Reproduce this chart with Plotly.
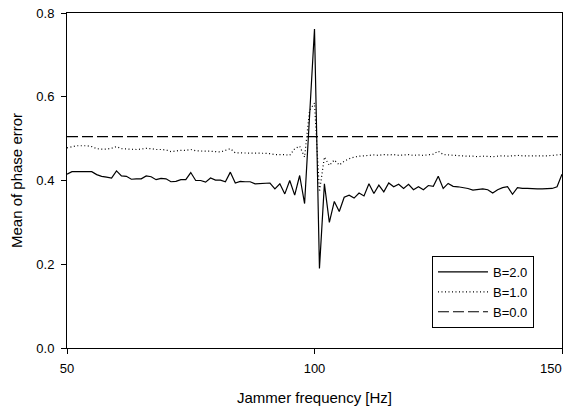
import plotly.graph_objects as go

freq = list(range(50, 151))

b2_vals = [
    0.415, 0.421, 0.421, 0.421, 0.422, 0.421, 0.414, 0.410, 0.408, 0.406,  # 50-59
    0.423, 0.411, 0.410, 0.403, 0.404, 0.404, 0.411, 0.409, 0.402, 0.405,  # 60-69
    0.404, 0.397, 0.398, 0.402, 0.402, 0.419, 0.400, 0.400, 0.396, 0.406,  # 70-79
    0.401, 0.401, 0.397, 0.420, 0.394, 0.398, 0.397, 0.397, 0.392, 0.393,  # 80-89
    0.393, 0.394, 0.380, 0.392, 0.368, 0.400, 0.365, 0.412, 0.345, 0.550,  # 90-99
    0.762, 0.190, 0.392, 0.300, 0.350, 0.326, 0.360, 0.365, 0.358, 0.370,  # 100-109
    0.363, 0.392, 0.369, 0.389, 0.373, 0.394, 0.385, 0.391, 0.381, 0.391,  # 110-119
    0.378, 0.385, 0.378, 0.388, 0.386, 0.410, 0.381, 0.393, 0.386, 0.385,  # 120-129
    0.383, 0.381, 0.377, 0.378, 0.380, 0.378, 0.370, 0.378, 0.383, 0.385,  # 130-139
    0.367, 0.383, 0.381, 0.381, 0.380, 0.380, 0.380, 0.381, 0.381, 0.385,  # 140-149
    0.415,                                                                  # 150
]

b1_vals = [
    0.478, 0.481, 0.483, 0.483, 0.483, 0.481, 0.476, 0.475, 0.475, 0.477,  # 50-59
    0.481, 0.476, 0.475, 0.474, 0.474, 0.475, 0.477, 0.476, 0.474, 0.474,  # 60-69
    0.473, 0.469, 0.471, 0.472, 0.472, 0.474, 0.471, 0.470, 0.470, 0.470,  # 70-79
    0.469, 0.468, 0.472, 0.476, 0.466, 0.466, 0.466, 0.466, 0.466, 0.465,  # 80-89
    0.465, 0.464, 0.462, 0.462, 0.462, 0.460, 0.476, 0.482, 0.456, 0.567,  # 90-99
    0.585, 0.373, 0.456, 0.436, 0.449, 0.437, 0.446, 0.452, 0.456, 0.458,  # 100-109
    0.459, 0.460, 0.461, 0.460, 0.462, 0.461, 0.462, 0.460, 0.461, 0.462,  # 110-119
    0.460, 0.461, 0.460, 0.462, 0.463, 0.470, 0.462, 0.461, 0.460, 0.459,  # 120-129
    0.459, 0.458, 0.458, 0.457, 0.458, 0.457, 0.457, 0.458, 0.459, 0.458,  # 130-139
    0.459, 0.460, 0.459, 0.459, 0.458, 0.459, 0.458, 0.459, 0.460, 0.461,  # 140-149
    0.462,                                                                  # 150
]

b0_freq = [50, 150]
b0_vals = [0.505, 0.505]

series_names = ["B=2.0", "B=1.0", "B=0.0"]
x_ticks = [50, 100, 150]
x_tick_labels = ["50", "100", "150"]
y_ticks = [0.0, 0.2, 0.4, 0.6, 0.8]
y_tick_labels = ["0.0", "0.2", "0.4", "0.6", "0.8"]

FONT = "Liberation Sans, Arial, sans-serif"
TICKFONT = dict(family=FONT, size=13, color="black")

fig = go.Figure()
fig.add_trace(go.Scatter(x=freq, y=b2_vals, mode="lines", name=series_names[0],
                         line=dict(color="black", width=1.2)))
fig.add_trace(go.Scatter(x=freq, y=b1_vals, mode="lines", name=series_names[1],
                         line=dict(color="black", width=1.2, dash="1px,2.5px")))
fig.add_trace(go.Scatter(x=b0_freq, y=b0_vals, mode="lines", name=series_names[2],
                         line=dict(color="black", width=1.2, dash="11px,4px")))

# The last x tick label sits shifted inward (as in the reference) so it stays on the page
fig.add_annotation(x=x_ticks[-1], y=0, xref="x", yref="y", text=x_tick_labels[-1],
                   showarrow=False, xanchor="right", yanchor="middle",
                   xshift=2, yshift=-20, font=TICKFONT)

fig.update_layout(
    width=572, height=406,
    margin=dict(l=67, r=10, t=13, b=58),
    paper_bgcolor="white", plot_bgcolor="white",
    font=dict(family=FONT, size=12, color="black"),
    showlegend=True,
    legend=dict(
        x=0.9434, y=0.0597, xanchor="right", yanchor="bottom",
        bgcolor="white", bordercolor="black", borderwidth=1,
        font=dict(family=FONT, size=13, color="black"),
        tracegroupgap=0, itemwidth=50,
    ),
    xaxis=dict(
        range=[50, 150], tickvals=x_ticks,
        ticktext=x_tick_labels[:-1] + [""],
        showgrid=False, zeroline=False, automargin=False,
        showline=True, linecolor="black", linewidth=1, mirror=True,
        ticks="outside", ticklen=5, tickcolor="black", tickwidth=1,
        ticklabelstandoff=3,
        tickfont=TICKFONT,
        title=dict(text="Jammer frequency [Hz]", standoff=18,
                   font=dict(family=FONT, size=15, color="black")),
    ),
    yaxis=dict(
        range=[0, 0.8], tickvals=y_ticks, ticktext=y_tick_labels,
        showgrid=False, zeroline=False, automargin=False,
        showline=True, linecolor="black", linewidth=1, mirror=True,
        ticks="outside", ticklen=5, tickcolor="black", tickwidth=1,
        ticklabelstandoff=4,
        tickfont=TICKFONT,
        title=dict(text="Mean of phase error", standoff=10,
                   font=dict(family=FONT, size=15, color="black")),
    ),
)

fig.write_html("out.html")
